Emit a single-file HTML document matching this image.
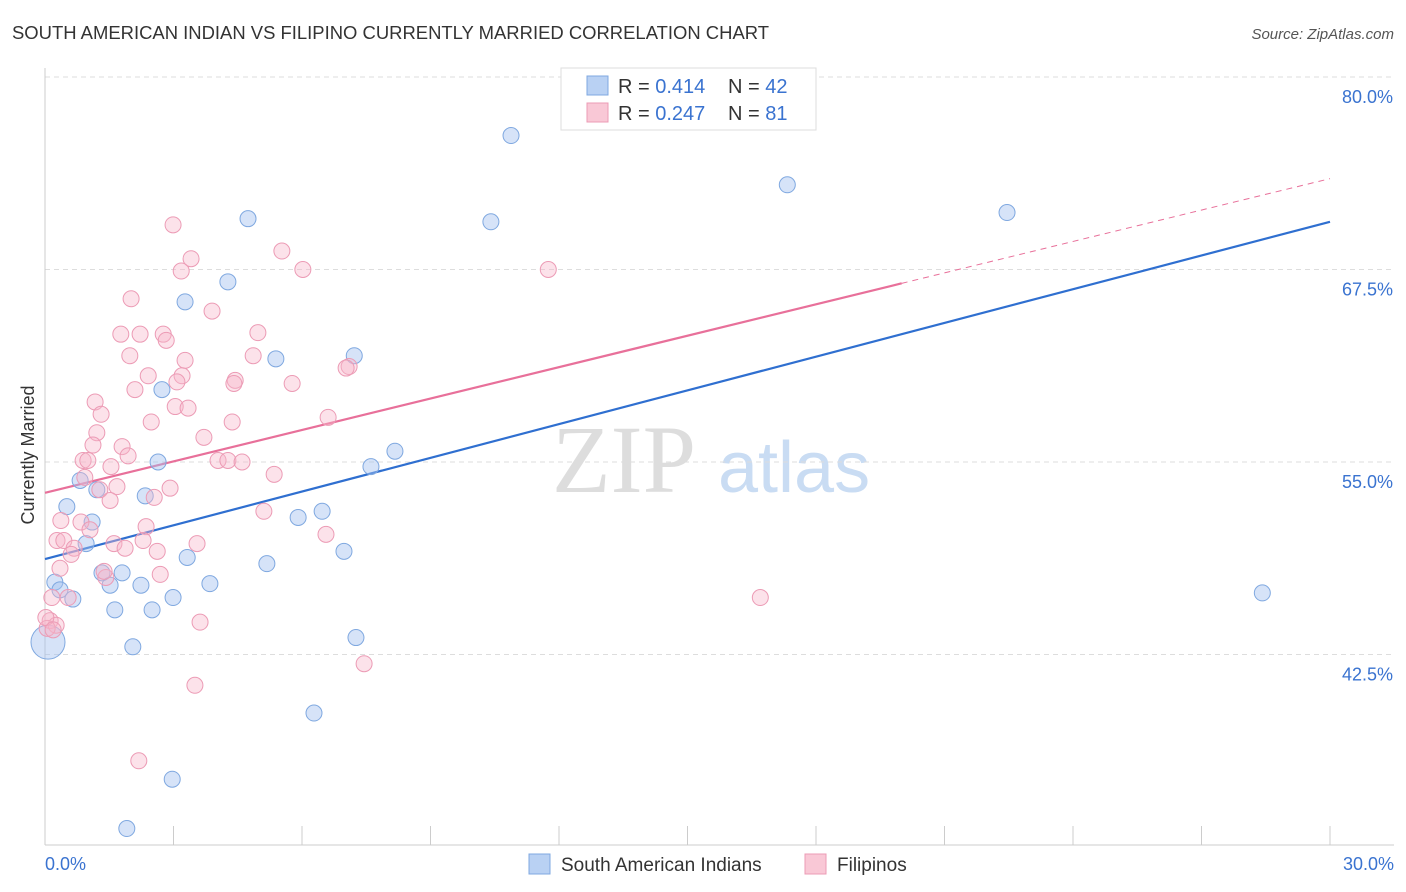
<!DOCTYPE html>
<html><head><meta charset="utf-8"><style>
body{margin:0;background:#fff;font-family:"Liberation Sans",sans-serif}
#wrap{position:relative;width:1406px;height:892px;overflow:hidden}
</style></head><body>
<div id="wrap">
<svg id="svg" width="1406" height="892" xmlns="http://www.w3.org/2000/svg">
<text x="12" y="39" font-size="18" fill="#333" textLength="757" lengthAdjust="spacingAndGlyphs">SOUTH AMERICAN INDIAN VS FILIPINO CURRENTLY MARRIED CORRELATION CHART</text>
<text x="1394" y="39" font-size="15" fill="#555" font-style="italic" text-anchor="end">Source: ZipAtlas.com</text>
<text x="34" y="455" font-size="18" fill="#333" text-anchor="middle" transform="rotate(-90 34 455)">Currently Married</text>
<g>
<text x="552" y="492" font-size="96" fill="#ddd" font-family="Liberation Serif,serif">ZIP</text>
<text x="718" y="492" font-size="72" fill="#c9dcf3">atlas</text>
</g>
<g id="grid"></g><g id="axes"></g><g id="lines"></g><g id="pts"></g>
<g>
<rect x="561" y="68" width="255" height="62" fill="#fff" stroke="#ddd"/>
<rect x="587" y="76" width="21" height="19" fill="#b9d1f3" stroke="#7fa8e0"/>
<rect x="587" y="103" width="21" height="19" fill="#f9c8d6" stroke="#ec9bb5"/>
<text x="618" y="93" font-size="20" fill="#333">R = <tspan fill="#3a73d0">0.414</tspan></text>
<text x="728" y="93" font-size="20" fill="#333">N = <tspan fill="#3a73d0">42</tspan></text>
<text x="618" y="120" font-size="20" fill="#333">R = <tspan fill="#3a73d0">0.247</tspan></text>
<text x="728" y="120" font-size="20" fill="#333">N = <tspan fill="#3a73d0"> 81</tspan></text>
</g>
<g>
<rect x="529" y="854" width="21" height="20" fill="#b9d1f3" stroke="#7fa8e0"/>
<text x="561" y="871" font-size="19" fill="#333">South American Indians</text>
<rect x="805" y="854" width="21" height="20" fill="#f9c8d6" stroke="#ec9bb5"/>
<text x="837" y="871" font-size="19" fill="#333">Filipinos</text>
</g>
</svg>
</div>
<script>
const yTicks=[42.5,55.0,67.5,80.0];
const xLabels=["0.0%","30.0%"];
const blueX=[10.88,17.33,22.46,4.74,10.41,4.27,3.27,5.39,7.22,2.73,8.17,7.61,2.64,0.82,1.21,0.51,2.34,1.10,5.91,6.47,0.96,3.32,6.98,5.18,1.33,1.80,1.52,2.24,3.85,0.23,0.35,0.65,2.99,1.63,2.50,7.26,2.05,0.07,6.28,2.97,1.91,28.42];
const blueY=[76.2,73.0,71.2,70.8,70.6,66.7,65.4,61.7,61.9,59.7,55.7,54.7,55.0,53.8,53.2,52.1,52.8,51.1,51.4,51.8,49.7,48.8,49.2,48.4,47.8,47.8,47.0,47.0,47.1,47.2,46.7,46.1,46.2,45.4,45.4,43.6,43.0,43.3,38.7,34.4,31.2,46.5];
const pinkX=[2.99,5.53,3.41,3.18,6.02,11.75,2.01,3.90,1.77,2.22,2.76,4.97,2.83,1.98,3.27,4.86,2.41,3.20,3.08,4.44,4.41,5.77,7.10,7.03,2.10,1.17,3.04,3.34,1.31,2.48,4.37,6.61,1.21,3.71,1.80,1.12,1.94,0.89,1.00,4.04,4.27,4.60,1.54,0.93,5.35,1.68,2.92,1.28,1.52,2.55,5.11,0.37,0.84,2.36,1.05,6.56,0.28,0.44,2.29,3.55,1.61,1.87,2.62,0.68,0.61,0.35,2.69,1.42,1.38,0.54,0.16,16.70,3.62,0.12,0.26,0.05,7.45,3.50,2.19,0.02,0.19];
const pinkY=[70.4,68.7,68.2,67.4,67.5,67.5,65.6,64.8,63.3,63.3,63.3,63.4,62.9,61.9,61.6,61.9,60.6,60.6,60.2,60.3,60.1,60.1,61.2,61.1,59.7,58.9,58.6,58.5,58.1,57.6,57.6,57.9,56.9,56.6,56.0,56.1,55.4,55.1,55.1,55.1,55.1,55.0,54.7,54.0,54.2,53.4,53.3,53.2,52.5,52.7,51.8,51.2,51.1,50.8,50.6,50.3,49.9,49.9,49.9,49.7,49.7,49.4,49.2,49.4,49.0,48.1,47.7,47.5,47.9,46.2,46.2,46.2,44.6,44.7,44.4,44.2,41.9,40.5,35.6,44.9,44.1];
const blueLine=[48.7,70.6];
const pinkLine=[53.0,73.4];
const pinkSolidEnd=20.0;
const NS="http://www.w3.org/2000/svg";
function sx(v){return 45+v/30*1285;}
function sy(v){return 462-(v-55)*15.4;}
function mk(p,t,a){const e=document.createElementNS(NS,t);for(const k in a)e.setAttribute(k,a[k]);p.appendChild(e);return e;}
const grid=document.getElementById('grid'),axes=document.getElementById('axes');
yTicks.forEach(t=>{
 const l=mk(grid,'line',{x1:45,x2:1394,y1:sy(t),y2:sy(t),stroke:'#ddd','stroke-dasharray':'5,4'});
 
 
 const tx=mk(axes,'text',{x:1393,y:sy(t)+26,'font-size':18,fill:'#3a73d0','text-anchor':'end'});
 tx.textContent=t.toFixed(1)+'%';
 
 
});
let a=mk(axes,'line',{x1:45,x2:45,y1:68,y2:845,stroke:'#ccc'});


a=mk(axes,'line',{x1:45,x2:1394,y1:845,y2:845,stroke:'#ccc'});


for(let i=0;i<=10;i++){
 const t=mk(axes,'line',{x1:sx(i*3),x2:sx(i*3),y1:826,y2:845,stroke:'#ccc'});
 
 
}
[[0,'start',45],[1,'end',1394]].forEach(([i,anc,x])=>{
 const tx=mk(axes,'text',{x:x,y:870,'font-size':18,fill:'#3a73d0','text-anchor':anc});
 tx.textContent=xLabels[i];
 
 
});
const pts=document.getElementById('pts');
blueX.forEach((x,i)=>{
 const c=mk(pts,'circle',{cx:sx(x),cy:sy(blueY[i]),r:(i==37?17:8),fill:'rgba(164,194,240,0.45)',stroke:'#7fa8e0','stroke-width':1});
 
 
});
pinkX.forEach((x,i)=>{
 const c=mk(pts,'circle',{cx:sx(x),cy:sy(pinkY[i]),r:8,fill:'rgba(248,182,202,0.4)',stroke:'#ec9bb5','stroke-width':1});
 
 
});
const lines=document.getElementById('lines');
let l=mk(lines,'line',{x1:sx(0),y1:sy(blueLine[0]),x2:sx(30),y2:sy(blueLine[1]),stroke:'#2f6fd0','stroke-width':2.2});


const pAt=x=>pinkLine[0]+(pinkLine[1]-pinkLine[0])*x/30;
l=mk(lines,'line',{x1:sx(0),y1:sy(pinkLine[0]),x2:sx(pinkSolidEnd),y2:sy(pAt(pinkSolidEnd)),stroke:'#e8709a','stroke-width':2.2});


l=mk(lines,'line',{x1:sx(pinkSolidEnd),y1:sy(pAt(pinkSolidEnd)),x2:sx(30),y2:sy(pinkLine[1]),stroke:'#e8709a','stroke-width':1,'stroke-dasharray':'6,5'});


</script>
</body></html>
